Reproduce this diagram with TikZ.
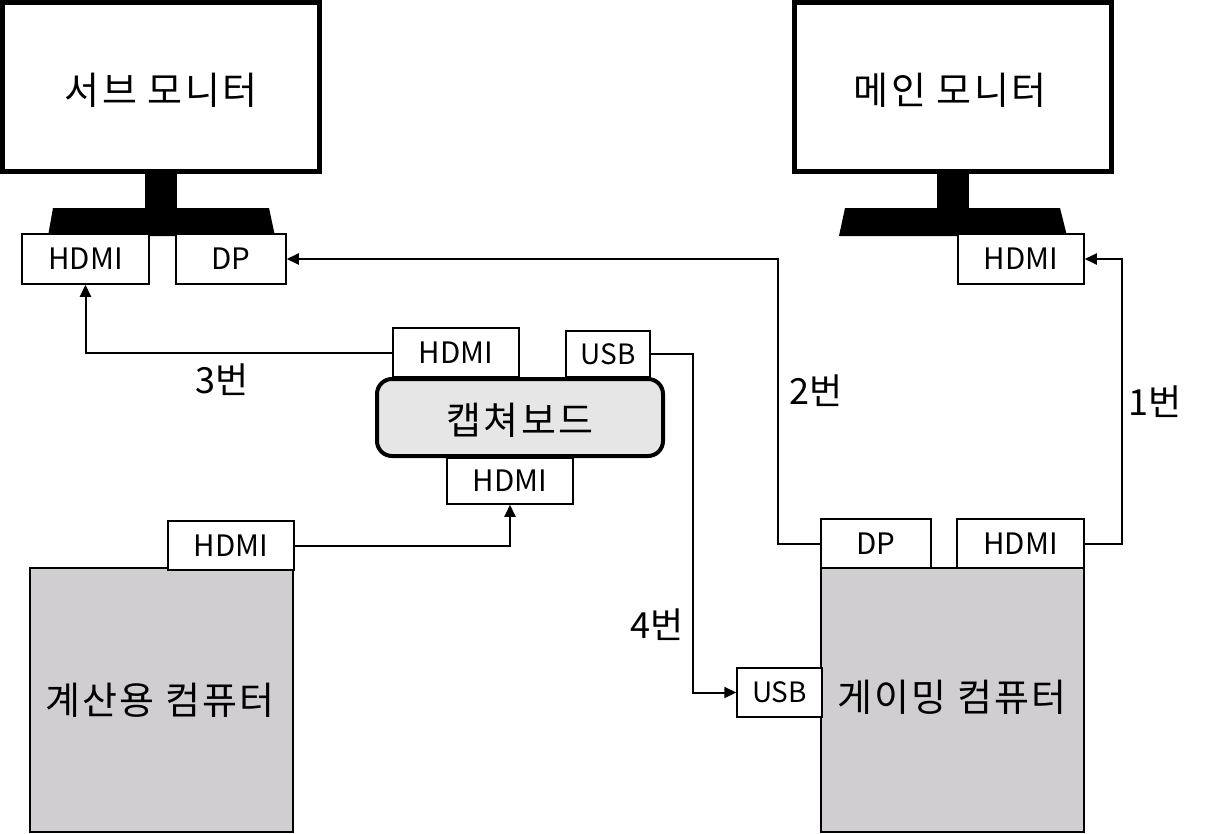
\documentclass[tikz,border=0pt]{standalone}
\usepackage{fontspec}
\setmainfont{Noto Sans CJK KR}
\newfontfamily\widecjk[LetterSpace=6]{Noto Sans CJK KR}
\usetikzlibrary{arrows.meta,calc}
\definecolor{pcgray}{HTML}{D0CED0}
\definecolor{capgray}{HTML}{E6E6E6}
\begin{document}
\begin{tikzpicture}[x=1pt,y=-1pt,
  port/.style={draw,line width=1.5pt,fill=white,inner sep=0pt,font=\fontsize{29.5}{31}\selectfont},
  usbport/.style={port,font=\fontsize{28}{30}\selectfont},
  monitor/.style={draw,line width=5pt,fill=white,inner sep=0pt,minimum width=317pt,minimum height=169pt},
  pc/.style={draw,line width=2pt,fill=pcgray,inner sep=0pt,minimum width=263pt,minimum height=264pt},
  capbox/.style={draw,line width=4pt,fill=capgray,rounded corners=15pt,inner sep=0pt,minimum width=286pt,minimum height=77pt},
  big/.style={font=\widecjk\fontsize{38}{42}\selectfont,inner sep=0pt},
  num/.style={font=\fontsize{36}{40}\selectfont,inner sep=0pt},
  conn/.style={line width=2pt},
  arr/.style={conn,-{Triangle[length=12pt,width=11pt]}}
]
\useasboundingbox (0,0) rectangle (1207,833);
% monitors
\node[monitor] (smon) at (161,87) {};
\node[monitor] (mmon) at (953,87) {};
\node[big] (smontxt) at (161,90) {서브 모니터};
\node[big] (mmontxt) at (950,90) {메인 모니터};
% stands
\fill (145,174) rectangle (177,209);
\fill (53,208) -- (269,208) -- (275,236) -- (48,236) -- cycle;
\fill (937,174) rectangle (969,209);
\fill (845,208) -- (1060,208) -- (1067,236) -- (839,236) -- cycle;
% monitor ports
\node[port,minimum width=127pt,minimum height=50pt] (shdmi) at (85.5,259) {HDMI};
\node[port,minimum width=110pt,minimum height=50pt] (sdp) at (231,259) {DP};
\node[port,minimum width=126pt,minimum height=50pt] (mhdmi) at (1021,259) {HDMI};
% capture board
\node[port,minimum width=126pt,minimum height=49pt] (chdmi) at (456,352.5) {HDMI};
\node[usbport,minimum width=84pt,minimum height=46pt] (cusb) at (608,354) {USB};
\node[capbox] (cap) at (520,417.5) {};
\node[big] (captxt) at (520,420) {캡쳐보드};
\node[port,minimum width=126pt,minimum height=46pt] (cbhdmi) at (510,481) {HDMI};
% computers
\node[pc] (calc) at (161.5,700) {};
\node[big] (calctxt) at (160,700) {계산용 컴퓨터};
\node[port,minimum width=126pt,minimum height=49pt] (khdmi) at (231,545.5) {HDMI};
\node[pc] (game) at (952.5,700) {};
\node[big] (gametxt) at (952,697) {게이밍 컴퓨터};
\node[port,minimum width=110pt,minimum height=49pt] (gdp) at (876,543.5) {DP};
\node[port,minimum width=127pt,minimum height=49pt] (ghdmi) at (1020.5,543.5) {HDMI};
\node[usbport,minimum width=85pt,minimum height=49pt] (gusb) at (779.5,692.5) {USB};
% routing coordinates
\coordinate (c1) at (1122,0);
\coordinate (c2) at (778,0);
\coordinate (c4) at (693,0);
% connectors
\draw[arr] (ghdmi.east) -- (ghdmi.east -| c1) |- (mhdmi.east);
\draw[arr] (gdp.west) -- (gdp.west -| c2) |- (sdp.east);
\draw[arr] (chdmi.west) -| (shdmi.south);
\draw[arr] (cusb.east) -- (cusb.east -| c4) |- (gusb.west);
\draw[arr] (khdmi.east) -| (cbhdmi.south);
% labels
\node[num] (l1) at (1155,402) {1번};
\node[num] (l2) at (816,391) {2번};
\node[num] (l3) at (222,380) {3번};
\node[num] (l4) at (657,625) {4번};
\end{tikzpicture}
\end{document}
